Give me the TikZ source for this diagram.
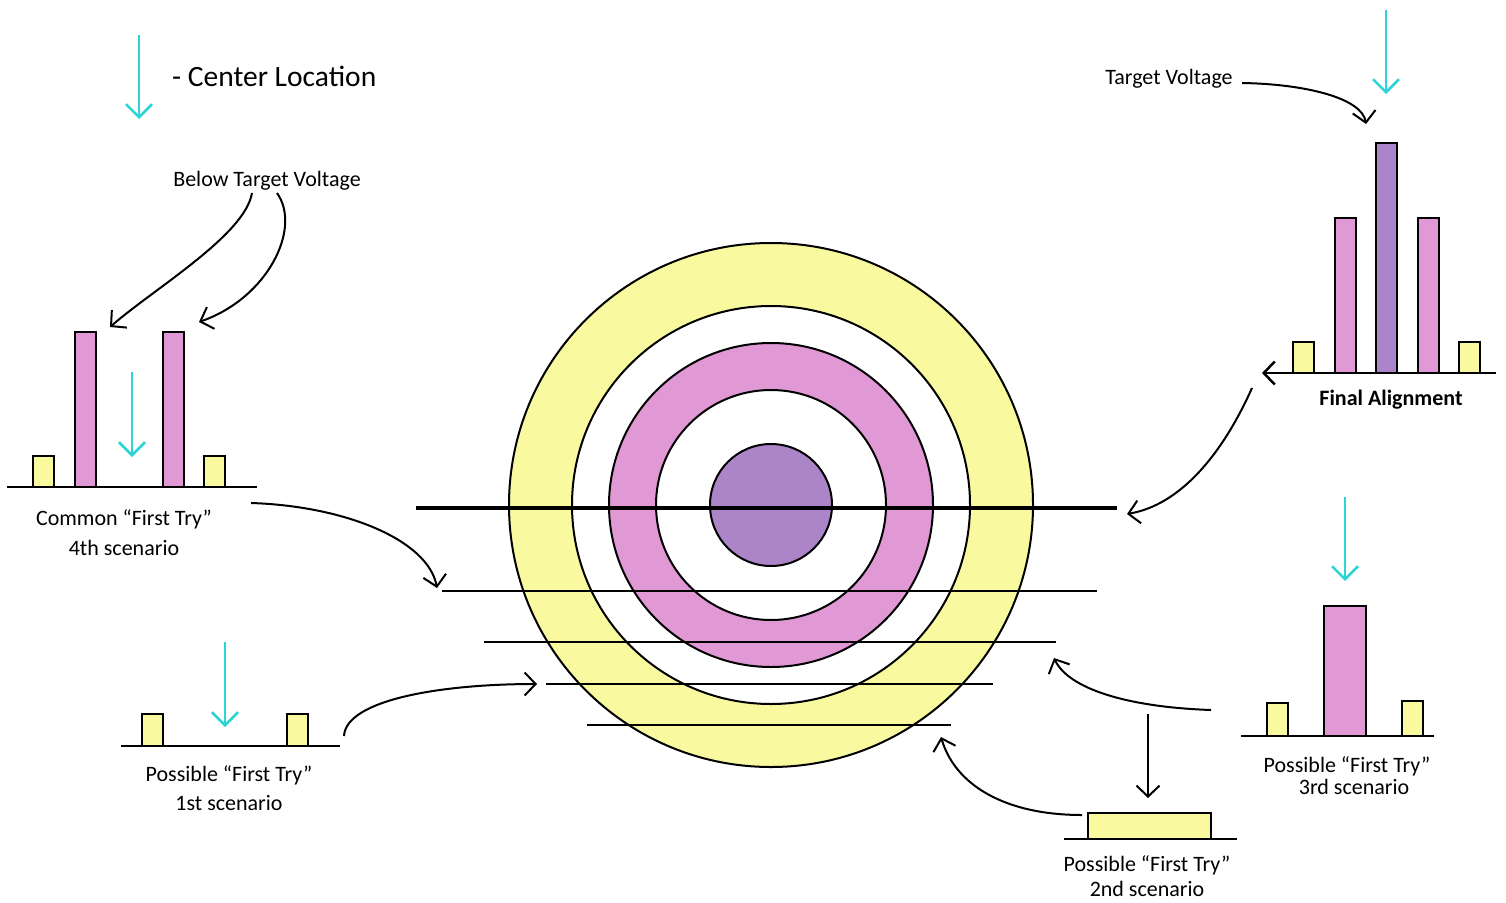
\documentclass[tikz,border=0pt]{standalone}
\usepackage{fontspec}
\setmainfont{Carlito}
\usetikzlibrary{arrows.meta}
\definecolor{cyanA}{RGB}{45,212,214}
\definecolor{yel}{RGB}{249,249,160}
\definecolor{pnk}{RGB}{225,153,213}
\definecolor{pur}{RGB}{171,133,200}
\tikzset{
  cyarrow/.style={draw=cyanA,line width=2.5pt,-{Straight Barb[length=13pt,width=26pt,line width=2.5pt]}},
  blkarrow/.style={draw=black,line width=2pt,-{Straight Barb[length=11pt,width=23pt,line width=2pt]}},
  barbox/.style={draw=black,line width=2.5pt},
  baseln/.style={draw=black,line width=2.5pt},
  ring/.style={draw=black,line width=2pt},
  hline/.style={draw=black,line width=2.5pt},
  lbl/.style={font=\fontsize{22}{26}\selectfont,align=center,inner sep=0pt},
}
\begin{document}
\begin{tikzpicture}[x=1pt,y=-1pt]
\useasboundingbox[fill=white] (0,0) rectangle (1506,902);

% target
\coordinate (ctr) at (771,505);
\fill[yel,ring] (ctr) circle[radius=262pt];
\fill[white,ring] (ctr) circle[radius=199pt];
\fill[pnk,ring] (ctr) circle[radius=162pt];
\fill[white,ring] (ctr) circle[radius=115pt];
\fill[pur,ring] (ctr) circle[radius=61pt];

% horizontal lines
\coordinate (l1a) at (416,508); \coordinate (l1b) at (1117,508);
\coordinate (l2a) at (442,591); \coordinate (l2b) at (1097,591);
\coordinate (l3a) at (484,642); \coordinate (l3b) at (1056,642);
\coordinate (l4a) at (546,684); \coordinate (l4b) at (993,684);
\coordinate (l5a) at (587,725); \coordinate (l5b) at (951,725);
\draw[hline,line width=3.5pt] (l1a) -- (l1b);
\draw[hline] (l2a) -- (l2b);
\draw[hline] (l3a) -- (l3b);
\draw[hline] (l4a) -- (l4b);
\draw[hline] (l5a) -- (l5b);

% legend
\coordinate (lg1) at (139,35); \coordinate (lg2) at (139,119);
\draw[cyarrow] (lg1) -- (lg2);
\node[anchor=west,inner sep=0pt,font=\fontsize{29.5}{34}\selectfont] (legend) at (172,76) {- Center Location};

% ---- 4th scenario (left)
\draw[barbox,fill=yel] (33,456) rectangle (54,487);
\draw[barbox,fill=pnk] (75,332) rectangle (96,487);
\draw[barbox,fill=pnk] (163,332) rectangle (184,487);
\draw[barbox,fill=yel] (204,456) rectangle (225,487);
\coordinate (b4a) at (7,487); \coordinate (b4b) at (257,487);
\draw[baseln] (b4a) -- (b4b);
\coordinate (c4a) at (132,372); \coordinate (c4b) at (132,457);
\draw[cyarrow] (c4a) -- (c4b);
\node[lbl] (t4) at (124,533) {Common ``First Try''\\[4pt]4th scenario};
\node[lbl] (btv) at (267,181) {Below Target Voltage};
\coordinate (btvL) at (252,193); \coordinate (tipL) at (110,327);
\coordinate (btvR) at (277,193); \coordinate (tipR) at (199,322);
\draw[blkarrow] (btvL) .. controls (245,235) and (155,288) .. (tipL);
\draw[blkarrow] (btvR) .. controls (302,228) and (268,298) .. (tipR);
\coordinate (s4) at (251,503); \coordinate (e4) at (437,588);
\draw[blkarrow] (s4) .. controls (345,506) and (428,540) .. (e4);

% ---- 1st scenario
\draw[barbox,fill=yel] (142,714) rectangle (163,746);
\draw[barbox,fill=yel] (287,714) rectangle (308,746);
\coordinate (b1a) at (121,746); \coordinate (b1b) at (340,746);
\draw[baseln] (b1a) -- (b1b);
\coordinate (c1a) at (225,642); \coordinate (c1b) at (225,727);
\draw[cyarrow] (c1a) -- (c1b);
\node[lbl] (t1) at (229,788) {Possible ``First Try''\\[3pt]1st scenario};
\coordinate (s1) at (344,736); \coordinate (e1) at (537,684);
\draw[blkarrow] (s1) .. controls (346,700) and (440,684) .. (e1);

% ---- final alignment (top right)
\draw[barbox,fill=yel] (1293,342) rectangle (1314,373);
\draw[barbox,fill=pnk] (1335,218) rectangle (1356,373);
\draw[barbox,fill=pur] (1376,143) rectangle (1397,373);
\draw[barbox,fill=pnk] (1418,218) rectangle (1439,373);
\draw[barbox,fill=yel] (1459,342) rectangle (1480,373);
\coordinate (bfa) at (1496,373); \coordinate (bfb) at (1262,373);
\draw[baseln,-{Straight Barb[length=11pt,width=23pt,line width=2.5pt]}] (bfa) -- (bfb);
\coordinate (cfa) at (1386,10); \coordinate (cfb) at (1386,94);
\draw[cyarrow] (cfa) -- (cfb);
\node[lbl,font=\fontsize{22}{26}\selectfont\bfseries] (tf) at (1391,400) {Final Alignment};
\node[lbl] (tv) at (1169,79) {Target Voltage};
\coordinate (tvs) at (1242,83); \coordinate (tve) at (1366,124);
\draw[blkarrow] (tvs) .. controls (1305,84) and (1362,98) .. (tve);
\coordinate (sf) at (1252,388); \coordinate (ef) at (1127,514);
\draw[blkarrow] (sf) .. controls (1222,455) and (1180,505) .. (ef);

% ---- 3rd scenario
\draw[barbox,fill=yel] (1267,703) rectangle (1288,736);
\draw[barbox,fill=pnk] (1324,606) rectangle (1366,736);
\draw[barbox,fill=yel] (1402,701) rectangle (1423,736);
\coordinate (b3a) at (1241,736); \coordinate (b3b) at (1434,736);
\draw[baseln] (b3a) -- (b3b);
\coordinate (c3a) at (1345,497); \coordinate (c3b) at (1345,581);
\draw[cyarrow] (c3a) -- (c3b);
\node[lbl] (t3) at (1347,776) {Possible ``First Try''\\[-4pt]\hspace*{14pt}3rd scenario};
\coordinate (s3) at (1211,710); \coordinate (e3) at (1054,658);
\draw[blkarrow] (s3) .. controls (1125,707) and (1068,688) .. (e3);

% ---- 2nd scenario
\draw[barbox,fill=yel] (1088,813) rectangle (1211,839);
\coordinate (b2a) at (1064,839); \coordinate (b2b) at (1237,839);
\draw[baseln] (b2a) -- (b2b);
\coordinate (a2a) at (1148,714); \coordinate (a2b) at (1148,798);
\draw[blkarrow] (a2a) -- (a2b);
\node[lbl] (t2) at (1147,876) {Possible ``First Try''\\[-1pt]2nd scenario};
\coordinate (s2) at (1082,815); \coordinate (e2) at (941,737);
\draw[blkarrow] (s2) .. controls (1005,815) and (955,785) .. (e2);
\end{tikzpicture}
\end{document}
